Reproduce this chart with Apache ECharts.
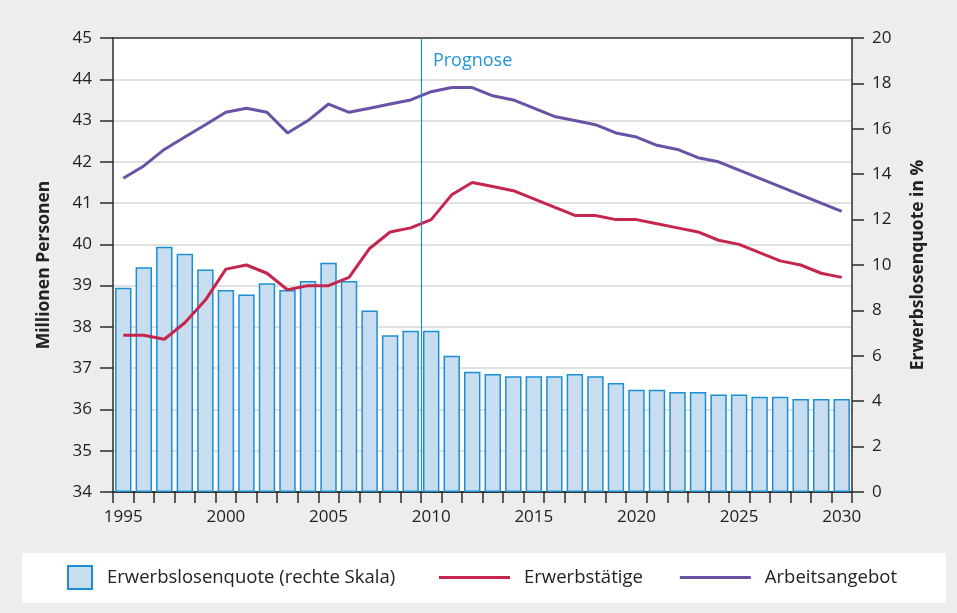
<!DOCTYPE html>
<html>
<head>
<meta charset="utf-8">
<script src="https://cdn.jsdelivr.net/npm/echarts@6/dist/echarts.min.js"></script>
<style>
  html, body { margin: 0; padding: 0; background: #ededed; }
  #chart { width: 957px; height: 613px; }
</style>
</head>
<body>
<div id="chart"></div>
<script>
const years = ['1995','1996','1997','1998','1999','2000','2001','2002','2003','2004','2005','2006',
  '2007','2008','2009','2010','2011','2012','2013','2014','2015','2016','2017','2018',
  '2019','2020','2021','2022','2023','2024','2025','2026','2027','2028','2029','2030'];
// Erwerbslosenquote in % (rechte Skala)
const erwerbslosenquote = [9.0, 9.9, 10.8, 10.5, 9.8, 8.9, 8.7, 9.2, 8.9, 9.3, 10.1, 9.3,
  8.0, 6.9, 7.1, 7.1, 6.0, 5.3, 5.2, 5.1, 5.1, 5.1, 5.2, 5.1,
  4.8, 4.5, 4.5, 4.4, 4.4, 4.3, 4.3, 4.2, 4.2, 4.1, 4.1, 4.1];
// Millionen Personen
const erwerbstaetige = [37.8, 37.8, 37.7, 38.1, 38.65, 39.4, 39.5, 39.3, 38.9, 39.0, 39.0, 39.2,
  39.9, 40.3, 40.4, 40.6, 41.2, 41.5, 41.4, 41.3, 41.1, 40.9, 40.7, 40.7,
  40.6, 40.6, 40.5, 40.4, 40.3, 40.1, 40.0, 39.8, 39.6, 39.5, 39.3, 39.2];
const arbeitsangebot = [41.6, 41.9, 42.3, 42.6, 42.9, 43.2, 43.3, 43.2, 42.7, 43.0, 43.4, 43.2,
  43.3, 43.4, 43.5, 43.7, 43.8, 43.8, 43.6, 43.5, 43.3, 43.1, 43.0, 42.9,
  42.7, 42.6, 42.4, 42.3, 42.1, 42.0, 41.8, 41.6, 41.4, 41.2, 41.0, 40.8];
const prognoseYear = '2010';
const prognoseLabelValue = 44.45;

const font = '"Open Sans", Lato, sans-serif';
const dark = '#2b2b2b';
const grey = '#d7d7d7';
const blue = '#1a8fd2';

const prognoseIndex = years.indexOf(prognoseYear);
// split line colours: bottom and top line dark, the rest light grey
const leftSplitColors = [dark, grey, grey, grey, grey, grey, grey, grey, grey, grey, grey, dark];

const myChart = echarts.init(document.getElementById('chart'));
const option = {
  animation: false,
  backgroundColor: '#ededed',
  textStyle: { fontFamily: font },
  graphic: [{
    type: 'rect',
    left: 22, top: 553,
    shape: { width: 924, height: 50 },
    style: { fill: '#ffffff' },
    z: -1
  }],
  grid: {
    left: 113, right: 105, top: 38, bottom: 121,
    show: true,
    backgroundColor: '#ffffff',
    borderWidth: 0
  },
  legend: [
    {
      left: 67, top: 565,
      padding: 0,
      icon: 'rect',
      itemWidth: 24, itemHeight: 23,
      data: ['Erwerbslosenquote (rechte Skala)'],
      textStyle: { fontSize: 18.5, color: '#222', padding: [0, 0, 0, 10], fontFamily: font }
    },
    {
      left: 439, top: 568,
      padding: 0,
      itemWidth: 71, itemHeight: 3,
      itemGap: 37,
      icon: 'rect',
      data: ['Erwerbstätige', 'Arbeitsangebot'],
      textStyle: { fontSize: 18.5, color: '#222', padding: [0, 0, 0, 9], fontFamily: font }
    }
  ],
  xAxis: [
    {
      type: 'category',
      data: years,
      boundaryGap: true,
      axisLine: { show: true, lineStyle: { color: dark, width: 1.5 } },
      axisTick: { show: true, interval: 0, length: 11, lineStyle: { color: dark, width: 1.5 } },
      axisLabel: { interval: 4, margin: 17, fontSize: 17, color: '#222', fontFamily: font },
      splitLine: { show: false }
    },
    {
      type: 'value',
      min: 0, max: years.length,
      show: false
    }
  ],
  yAxis: [
    {
      type: 'value',
      min: 34, max: 45, interval: 1,
      position: 'left',
      name: 'Millionen Personen',
      nameLocation: 'middle',
      nameRotate: 90,
      nameGap: 60,
      nameTextStyle: { fontSize: 17.5, fontWeight: 'bold', color: '#222', fontFamily: font },
      axisLine: { show: true, lineStyle: { color: dark, width: 1.5 } },
      axisTick: { show: true, length: 13, lineStyle: { color: dark, width: 1.5 } },
      axisLabel: { margin: 21, fontSize: 17, color: '#222', fontFamily: font },
      splitLine: { show: true, lineStyle: { color: leftSplitColors, width: 1.5 } }
    },
    {
      type: 'value',
      min: 0, max: 20, interval: 2,
      position: 'right',
      name: 'Erwerbslosenquote in %',
      nameLocation: 'middle',
      nameRotate: 90,
      nameGap: 57,
      nameTextStyle: { fontSize: 17.5, fontWeight: 'bold', color: '#222', fontFamily: font },
      axisLine: { show: true, lineStyle: { color: dark, width: 1.5 } },
      axisTick: { show: true, length: 12, lineStyle: { color: dark, width: 1.5 } },
      axisLabel: { margin: 20, fontSize: 17, color: '#222', fontFamily: font },
      splitLine: { show: false }
    }
  ],
  series: [
    {
      name: 'Erwerbslosenquote (rechte Skala)',
      type: 'bar',
      yAxisIndex: 1,
      barCategoryGap: '20%',
      data: erwerbslosenquote,
      itemStyle: { color: '#c9ddf1', borderColor: blue, borderWidth: 1.5 }
    },
    {
      name: 'Erwerbstätige',
      type: 'line',
      yAxisIndex: 0,
      symbol: 'none',
      data: erwerbstaetige,
      itemStyle: { color: '#c6264d' },
      lineStyle: { color: '#c6264d', width: 3 },
      z: 3
    },
    {
      name: 'Arbeitsangebot',
      type: 'line',
      yAxisIndex: 0,
      symbol: 'none',
      data: arbeitsangebot,
      itemStyle: { color: '#6a52a6' },
      lineStyle: { color: '#6a52a6', width: 3 },
      z: 3
    },
    {
      // Prognose marker, on the hidden value x axis so the line sits on the category boundary
      type: 'line',
      xAxisIndex: 1,
      yAxisIndex: 0,
      data: [],
      silent: true,
      markLine: {
        symbol: 'none',
        silent: true,
        label: { show: false },
        lineStyle: { color: blue, width: 1.2, type: 'solid' },
        data: [{ xAxis: prognoseIndex }]
      },
      markPoint: {
        symbol: 'circle',
        symbolSize: 0,
        silent: true,
        label: {
          show: true,
          position: 'right',
          distance: 12,
          formatter: 'Prognose',
          fontSize: 18,
          color: '#1f95d6',
          fontFamily: font
        },
        data: [{ coord: [prognoseIndex, prognoseLabelValue] }]
      }
    }
  ]
};
option && myChart.setOption(option);
</script>
</body>
</html>
